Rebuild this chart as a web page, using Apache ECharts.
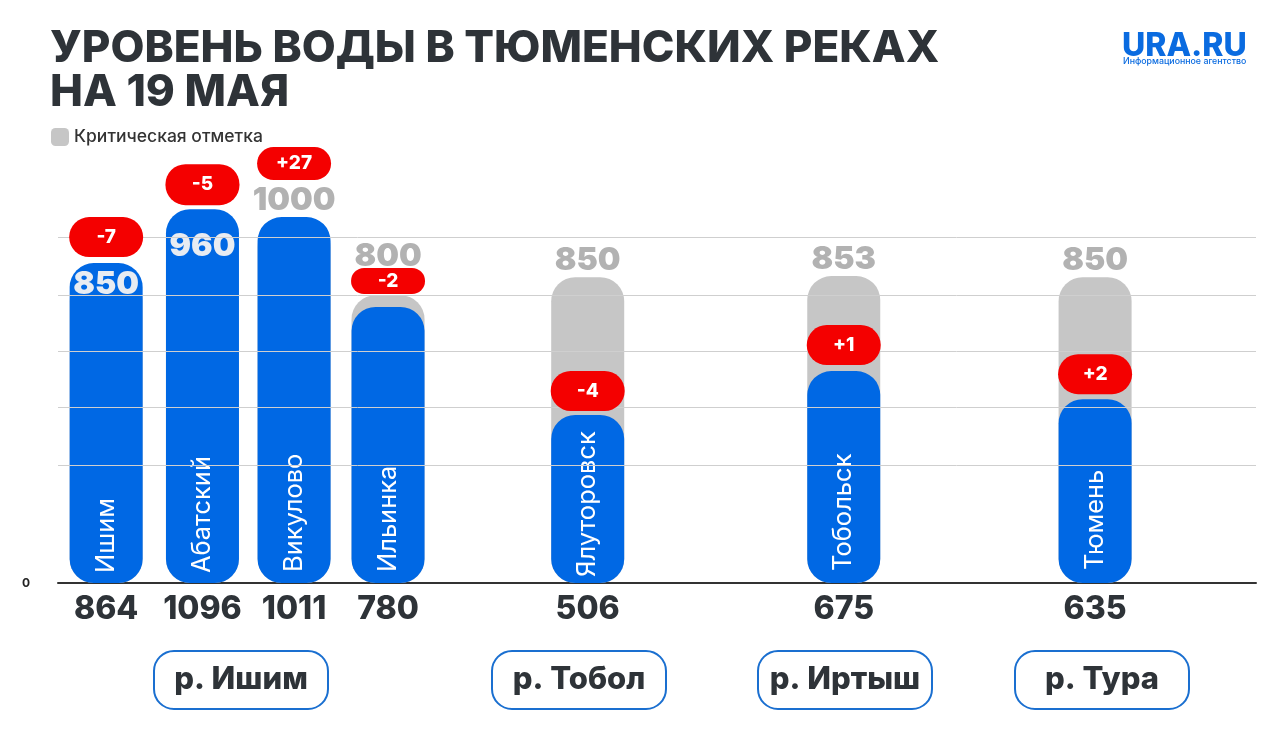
<!DOCTYPE html>
<html>
<head>
  <meta charset="UTF-8">
  <script src="https://cdn.jsdelivr.net/npm/echarts@6/dist/echarts.min.js"></script>
  <style>
    html, body { margin: 0; background: #fff; }
    #chart { width: 1280px; height: 742px; }
  </style>
</head>
<body>
<div id="chart"></div>
<script>
  var stations = ['Ишим', 'Абатский', 'Викулово', 'Ильинка', 'Ялуторовск', 'Тобольск', 'Тюмень'];
  // numbers printed under the axis
  var levelLabels = [864, 1096, 1011, 780, 506, 675, 635];
  // heights of the blue bars as drawn (not to scale with the printed numbers)
  var drawnLevels = [889, 1039, 1017, 767, 467, 589, 511];
  var criticalLevels = [850, 960, 1000, 800, 850, 853, 850];
  var changes = ['-7', '-5', '+27', '-2', '-4', '+1', '+2'];
  var rivers = ['р. Ишим', 'р. Тобол', 'р. Иртыш', 'р. Тура'];
  var gridLevels = [328, 489, 644, 800, 960];

  // empty slots before each station, the bars are not evenly spaced
  var slotGaps = [20, 41, 39, 40, 85, 109, 107];
  var totalSlots = 510;

  var font = 'Inter';
  var dark = '#2e3338';
  var blue = '#0068e4';
  var grey = '#c6c6c6';
  var red = '#f40000';

  var categories = [];
  for (var i = 0; i < totalSlots; i++) categories.push('');
  var slotOf = [];
  var pos = 0;
  slotGaps.forEach(function (g, i) {
    pos += g;
    slotOf.push(pos);
    categories[pos] = stations[i];
  });

  function toSlots(values, itemFn) {
    var out = categories.map(function () { return null; });
    values.forEach(function (v, i) {
      out[slotOf[i]] = itemFn ? itemFn(v, i) : v;
    });
    return out;
  }

  // where the critical number sits relative to its bar top
  var criticalLabelOffset = [23, 25, -7, -23, -1, -1, -1];
  var criticalLabelColor = ['#e8ecf2', '#e8ecf2', '#b2b2b2', '#b2b2b2', '#b2b2b2', '#b2b2b2', '#b2b2b2'];
  var pillHeights = [40, 41, 33, 26, 40, 40, 40];
  var pillDistance = [6, 4, 37, 13, 4, 6, 5];
  var nameDistance = [10, 10, 11, 11, 6, 12, 13];

  var chart = echarts.init(document.getElementById('chart'));
  chart.setOption({
    backgroundColor: '#fff',
    animation: false,
    title: {
      text: 'УРОВЕНЬ ВОДЫ В ТЮМЕНСКИХ РЕКАХ\nНА 19 МАЯ',
      left: 45,
      top: 22,
      textStyle: { fontFamily: font, fontSize: 44, fontWeight: 800, color: dark, lineHeight: 44 }
    },
    legend: {
      data: ['Критическая отметка'],
      left: 46,
      top: 123,
      itemWidth: 18,
      itemHeight: 18,
      itemGap: 7,
      textStyle: { fontFamily: font, fontSize: 17.5, fontWeight: 500, color: '#333' }
    },
    grid: { left: 58, right: 24, top: 180, bottom: 159 },
    xAxis: {
      type: 'category',
      data: categories,
      axisTick: { show: false },
      axisLine: { lineStyle: { color: '#333', width: 2 } },
      axisLabel: {
        interval: 0,
        margin: 10,
        fontFamily: font,
        fontSize: 32,
        fontWeight: 800,
        color: dark,
        formatter: function (v) {
          var i = stations.indexOf(v);
          return i < 0 ? '' : String(levelLabels[i]);
        }
      }
    },
    yAxis: {
      type: 'value',
      min: 0,
      max: 1120,
      interval: 160,
      splitLine: { show: false },
      axisLine: { show: false },
      axisTick: { show: false },
      axisLabel: {
        margin: 28,
        padding: [4, 0, 0, 0],
        fontFamily: font,
        fontSize: 12,
        fontWeight: 700,
        color: '#222',
        formatter: function (v) { return v === 0 ? '0' : ''; }
      }
    },
    series: [
      {
        name: 'grid',
        type: 'line',
        data: [],
        z: 0,
        silent: true,
        markLine: {
          silent: true,
          symbol: 'none',
          label: { show: false },
          lineStyle: { color: '#cfcfcf', width: 1, type: 'solid' },
          data: gridLevels.map(function (v) { return { yAxis: v }; })
        }
      },
      {
        name: 'Критическая отметка',
        type: 'bar',
        barWidth: 73,
        barGap: '-100%',
        z: 2,
        itemStyle: { color: grey, borderRadius: 24 },
        data: toSlots(criticalLevels)
      },
      {
        name: 'Уровень',
        type: 'bar',
        barWidth: 73,
        barGap: '-100%',
        z: 3,
        itemStyle: { color: blue, borderRadius: 24 },
        data: toSlots(drawnLevels, function (v, i) {
          return {
            value: v,
            label: {
              show: true,
              position: 'insideBottom',
              rotate: 90,
              align: 'left',
              verticalAlign: 'middle',
              distance: nameDistance[i],
              fontFamily: font,
              fontSize: 25.5,
              color: '#fff',
              formatter: stations[i]
            }
          };
        })
      },
      {
        // invisible bars, they only carry the critical numbers
        name: 'Подпись отметки',
        type: 'bar',
        barWidth: 73,
        barGap: '-100%',
        z: 4,
        itemStyle: { color: 'transparent' },
        data: toSlots(criticalLevels, function (v, i) {
          return {
            value: v,
            label: {
              show: true,
              position: 'top',
              distance: 0,
              offset: [0, criticalLabelOffset[i]],
              fontFamily: font,
              fontSize: 32,
              fontWeight: 900,
              color: criticalLabelColor[i],
              formatter: String(v)
            }
          };
        })
      },
      {
        // invisible bars, they only carry the red change pills
        name: 'Изменение',
        type: 'bar',
        barWidth: 73,
        barGap: '-100%',
        z: 5,
        itemStyle: { color: 'transparent' },
        data: toSlots(drawnLevels, function (v, i) {
          return {
            value: v,
            label: {
              show: true,
              position: 'top',
              distance: pillDistance[i],
              width: 74,
              height: pillHeights[i],
              lineHeight: pillHeights[i],
              align: 'center',
              backgroundColor: red,
              borderRadius: 20,
              fontFamily: font,
              fontSize: 19,
              fontWeight: 800,
              color: '#fff',
              formatter: changes[i]
            }
          };
        })
      }
    ],
    graphic: [
      { type: 'text', left: 1122, top: 30, style: { text: 'URA.RU', fontFamily: font, fontSize: 32, fontWeight: 800, fill: '#0a6be0' } },
      { type: 'text', left: 1123, top: 57, style: { text: 'Информационное агентство', fontFamily: font, fontSize: 8.8, fontWeight: 500, fill: '#0a6be0' } }
    ].concat(rivers.map(function (r, i) {
      var cx = [241, 579, 845, 1102][i];
      return {
        type: 'rect',
        shape: { x: cx - 87, y: 651, width: 174, height: 58, r: 20 },
        style: { fill: '#fff', stroke: '#1a6fd0', lineWidth: 2 },
        textContent: { style: { text: r, fontFamily: font, fontSize: 31, fontWeight: 800, fill: dark } },
        textConfig: { position: 'inside' }
      };
    }))
  });
</script>
</body>
</html>
